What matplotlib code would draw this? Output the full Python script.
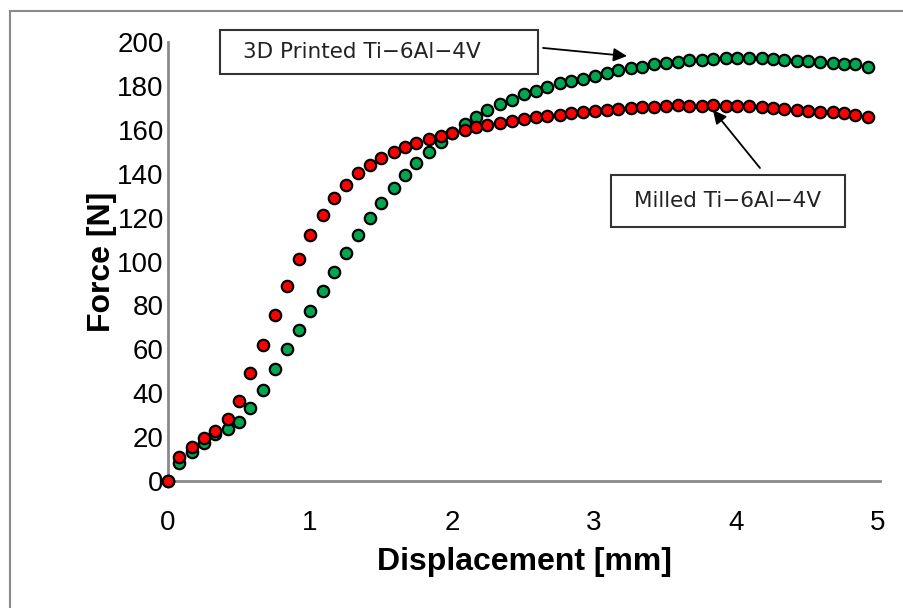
import matplotlib.pyplot as plt
from matplotlib.patches import Rectangle

# displacement [mm], same sample points for both specimens
displacement = [0.00, 0.08, 0.17, 0.25, 0.33, 0.42, 0.50, 0.58, 0.67, 0.75,
                0.84, 0.92, 1.00, 1.09, 1.17, 1.25, 1.34, 1.42, 1.50, 1.59,
                1.67, 1.75, 1.84, 1.92, 2.00, 2.09, 2.17, 2.25, 2.34, 2.42,
                2.51, 2.59, 2.67, 2.76, 2.84, 2.92, 3.01, 3.09, 3.17, 3.26,
                3.34, 3.42, 3.51, 3.59, 3.67, 3.76, 3.84, 3.93, 4.01, 4.09,
                4.18, 4.26, 4.34, 4.43, 4.51, 4.59, 4.68, 4.76, 4.84, 4.93]

# force [N] - 3D printed Ti-6Al-4V
force_printed = [0, 8.3, 13.4, 17.2, 21.3, 23.5, 26.7, 33.1, 41.5, 51.0,
                 60.0, 69.0, 77.6, 86.7, 95.4, 104.0, 112.1, 119.7, 126.8, 133.3,
                 139.4, 145.0, 150.0, 154.6, 158.5, 162.6, 166.0, 169.0, 171.6, 173.6,
                 176.3, 177.8, 179.6, 181.2, 182.4, 183.1, 184.6, 185.7, 187.2, 188.0,
                 188.8, 189.8, 190.6, 190.9, 191.6, 191.9, 192.2, 192.7, 192.8, 192.8,
                 192.6, 192.3, 191.6, 191.3, 191.2, 190.8, 190.4, 190.2, 189.9, 188.5]

# force [N] - milled Ti-6Al-4V
force_milled = [0, 11.0, 15.5, 19.6, 22.8, 28.1, 36.3, 49.0, 62.0, 75.6,
                88.8, 101.0, 112.0, 121.0, 128.8, 134.9, 140.2, 144.0, 147.3, 149.7,
                152.0, 153.8, 155.7, 157.2, 158.4, 159.9, 161.1, 162.0, 163.1, 164.0,
                164.8, 165.7, 166.3, 166.9, 167.5, 168.1, 168.6, 169.0, 169.6, 169.9,
                170.3, 170.5, 170.8, 171.1, 171.0, 171.0, 171.3, 171.0, 170.8, 170.7,
                170.2, 169.8, 169.6, 169.0, 168.5, 168.2, 168.0, 167.5, 166.6, 165.9]

green = '#00a650'
red = '#ff0000'
axis_grey = '#8a8a8a'

fig = plt.figure(figsize=(9.04, 6.08), dpi=100)
ax = fig.add_axes([168/904, 1 - 481/608, 712/904, 439/608])

# outer chart frame (only left and top edges are inside the picture)
fig.patches.append(Rectangle((10/904, -0.5), 2.0, 1.5 - 11/608, transform=fig.transFigure,
                             fill=False, edgecolor=axis_grey, lw=1.5))

ax.plot(displacement, force_printed, 'o', color=green, markeredgecolor='black',
        markeredgewidth=1.6, markersize=8.2, clip_on=False, zorder=3)
ax.plot(displacement, force_milled, 'o', color=red, markeredgecolor='black',
        markeredgewidth=1.6, markersize=8.2, clip_on=False, zorder=4)

ax.set_xlim(0, 712/142)
ax.set_ylim(0, 200)
ax.set_xticks([0, 1, 2, 3, 4, 5])
ax.set_yticks(range(0, 201, 20))

for s in ['top', 'right']:
    ax.spines[s].set_visible(False)
for s in ['left', 'bottom']:
    ax.spines[s].set_color(axis_grey)
    ax.spines[s].set_linewidth(2)
ax.spines['bottom'].set_zorder(1)

ax.tick_params(axis='both', length=0, labelsize=20, labelcolor='black',
               labelfontfamily='Liberation Sans')
ax.tick_params(axis='x', pad=21)
ax.tick_params(axis='y', pad=3)

ax.set_xlabel('Displacement [mm]', fontsize=23, fontweight='bold',
              family='Liberation Sans', labelpad=8)
ax.set_ylabel('Force [N]', fontsize=23, fontweight='bold',
              family='Liberation Sans', labelpad=0)

# annotation boxes
box_kw = dict(fill=False, edgecolor='#333333', lw=1.5, clip_on=False)
ax.add_patch(Rectangle((0.366, 185.4), 2.24, 20.1, **box_kw))
ax.text(1.366, 195.4, '3D Printed Ti\u22126Al\u22124V', ha='center', va='center',
        fontsize=15.5, color='#222222', family='DejaVu Sans', clip_on=False)
ax.add_patch(Rectangle((3.118, 115.9), 1.65, 23.5, **box_kw))
ax.text(3.944, 127.6, 'Milled Ti\u22126Al\u22124V', ha='center', va='center',
        fontsize=15.5, color='#222222', family='DejaVu Sans', clip_on=False)

arrow_kw = dict(arrowstyle='-|>', color='black', lw=1.3, mutation_scale=20,
                shrinkA=0, shrinkB=0)
ax.annotate('', xy=(3.232, 193.6), xytext=(2.641, 197.3), arrowprops=arrow_kw,
            annotation_clip=False)
ax.annotate('', xy=(3.838, 169.0), xytext=(4.169, 142.6), arrowprops=arrow_kw,
            annotation_clip=False)

fig.savefig('out.png', dpi=100)
